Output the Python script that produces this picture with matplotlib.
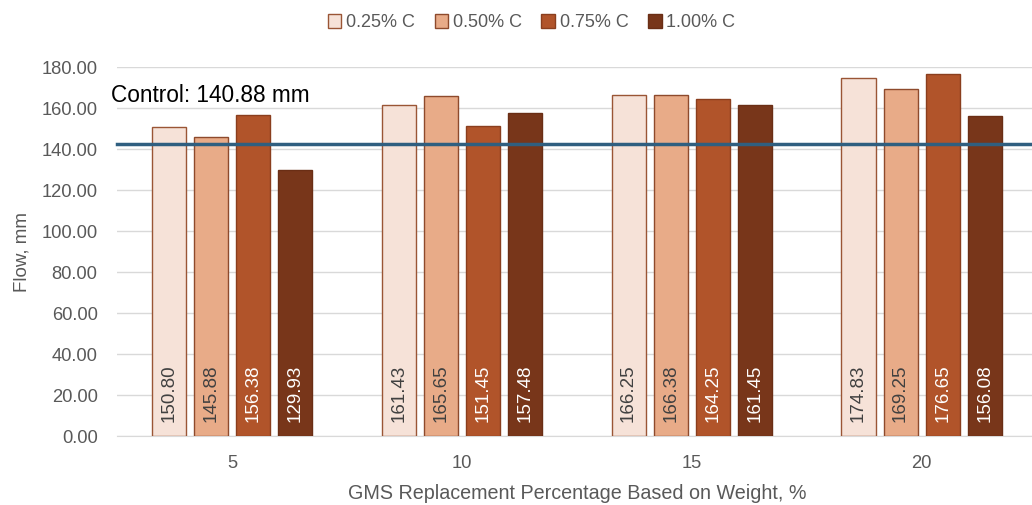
import numpy as np
import matplotlib.pyplot as plt
from matplotlib.patches import Patch

plt.rcParams["font.family"] = ["Liberation Sans", "DejaVu Sans"]

groups = ["5", "10", "15", "20"]
series = ["0.25% C", "0.50% C", "0.75% C", "1.00% C"]
flow = [
    [150.80, 161.43, 166.25, 174.83],
    [145.88, 165.65, 166.38, 169.25],
    [156.38, 151.45, 164.25, 176.65],
    [129.93, 157.48, 161.45, 156.08],
]
control_label = "Control: 140.88 mm"
control_line = 142.3
yticks = [0, 20, 40, 60, 80, 100, 120, 140, 160, 180]

colors = ["#F6E2D8", "#E8AB88", "#B1542A", "#78361A"]
edges = ["#9A5535", "#8E4A2C", "#8A3E1E", "#6A2E15"]
txt_colors = ["#404040", "#404040", "white", "white"]

fig = plt.figure(figsize=(10.32, 5.05), dpi=100)
ax = fig.add_axes([0.1134, 0.1366, 0.891, 0.7307])

x = np.arange(len(groups))
w = 0.148
step = 0.183
for i, s in enumerate(series):
    xs = x + (i - 1.5) * step
    ax.bar(xs, flow[i], width=w, color=colors[i], edgecolor=edges[i], linewidth=1.0, zorder=3, label=s)
    for xi, v in zip(xs, flow[i]):
        ax.text(xi, 7, f"{v:.2f}", rotation=90, ha="center", va="bottom",
                fontsize=13.5, color=txt_colors[i], zorder=4)

ax.axhline(control_line, color="#2F5F80", linewidth=2.5, zorder=5, clip_on=False)
ax.text(-0.525, 166, control_label, fontsize=16.3, color="black", va="center", ha="left", zorder=6)

ax.set_xlim(-0.5, 3.5)
ax.set_ylim(0, 180)
ax.set_xticks(x)
ax.set_xticklabels(groups)
ax.set_yticks(yticks)
ax.set_yticklabels([f"{t:.2f}" for t in yticks])
ax.tick_params(axis="both", length=0, labelsize=13.2, colors="#595959")
ax.tick_params(axis="x", pad=14)
ax.tick_params(axis="y", pad=14)
ax.grid(axis="y", color="#D9D9D9", linewidth=1.0, zorder=0)
for sp in ["top", "right", "left"]:
    ax.spines[sp].set_visible(False)
ax.spines["bottom"].set_color("#D9D9D9")
ax.set_ylabel("Flow, mm", fontsize=13.5, color="#595959")
ax.yaxis.set_label_coords(-0.094, 0.5)
ax.set_xlabel("GMS Replacement Percentage Based on Weight, %", fontsize=14.2, color="#595959")
ax.xaxis.set_label_coords(0.5, -0.13)

handles = [Patch(facecolor=colors[i], edgecolor=edges[i], linewidth=1.0) for i in range(4)]
leg = fig.legend(handles, series, loc="center", bbox_to_anchor=(0.515, 0.955), ncol=4, frameon=False,
                 fontsize=13, handlelength=0.75, handleheight=0.75, handletextpad=0.25, columnspacing=1.1)
for t in leg.get_texts():
    t.set_color("#595959")

fig.savefig("out.png", dpi=100)
